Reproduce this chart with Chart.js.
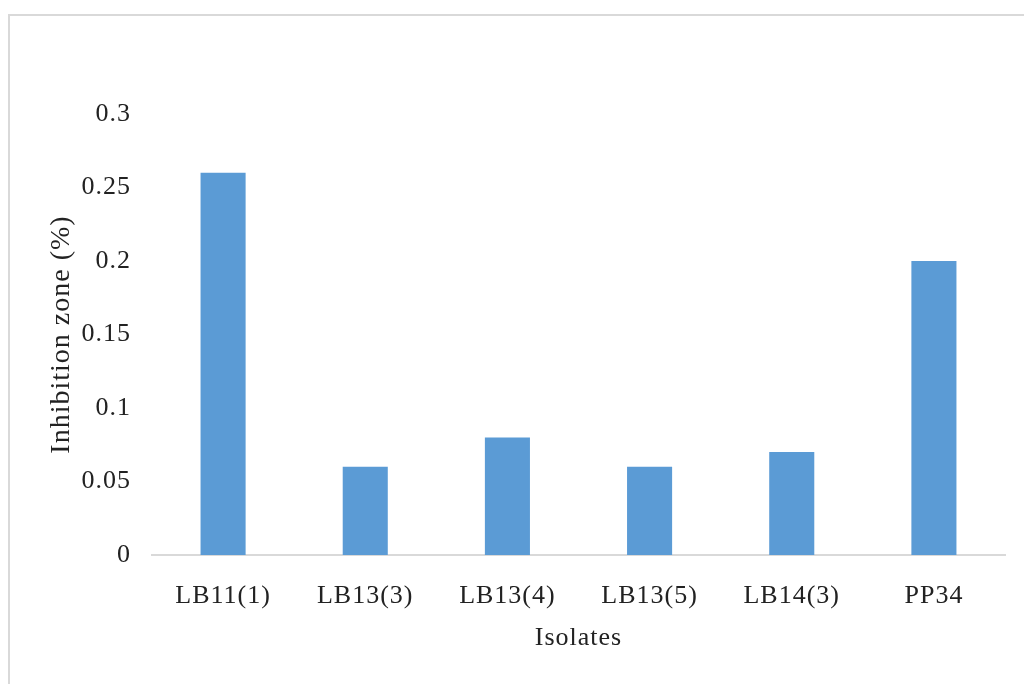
<!DOCTYPE html>
<html>
<head>
<meta charset="utf-8">
<script src="https://cdn.jsdelivr.net/npm/chart.js@4/dist/chart.umd.min.js"></script>
<style>
  html, body { margin: 0; padding: 0; background: #fff; }
  #wrap { position: relative; width: 1024px; height: 684px; overflow: hidden; }
  #frame {
    position: absolute; left: 8px; top: 14px; width: 1100px; height: 800px;
    border-top: 2px solid #d9d9d9; border-left: 2px solid #d9d9d9;
  }
  #chart { position: absolute; left: 0; top: 0; }
</style>
</head>
<body>
<div id="wrap">
  <div id="frame"></div>
  <canvas id="chart" width="1024" height="684"></canvas>
</div>
<script>
// data
const isolates = ['LB11(1)', 'LB13(3)', 'LB13(4)', 'LB13(5)', 'LB14(3)', 'PP34'];
const inhibitionZone = [0.26, 0.06, 0.08, 0.06, 0.07, 0.2];
const yTicks = [0, 0.05, 0.1, 0.15, 0.2, 0.25, 0.3];

const textColor = '#222';
const fontFamily = '"Liberation Serif", "Times New Roman", serif';

// the original text is set a little wider than plain Times
const spacingPlugin = {
  id: 'spacing',
  beforeDraw: (chart) => { chart.ctx.letterSpacing = '1px'; },
};

const ctx = document.getElementById('chart').getContext('2d');
new Chart(ctx, {
  type: 'bar',
  data: {
    labels: isolates,
    datasets: [
      {
        label: 'Inhibition zone (%)',
        data: inhibitionZone,
        backgroundColor: '#5b9bd5',
        borderWidth: 0,
        barPercentage: 0.317,
        categoryPercentage: 1,
      },
    ],
  },
  plugins: [spacingPlugin],
  options: {
    responsive: false,
    animation: false,
    layout: {
      padding: { top: 114, right: 19, bottom: 0, left: 0 },
    },
    plugins: {
      legend: { display: false },
      tooltip: { enabled: false },
    },
    scales: {
      x: {
        grid: { display: false, drawTicks: false },
        border: { display: true, color: '#d9d9d9', width: 2 },
        ticks: {
          color: textColor,
          padding: 26,
          font: { family: fontFamily, size: 26 },
          maxRotation: 0,
        },
        title: {
          display: true,
          text: 'Isolates',
          color: textColor,
          font: { family: fontFamily, size: 26 },
          padding: { top: 0, bottom: 30 },
        },
        afterFit: (scale) => { scale.height = 684 - 555; },
      },
      y: {
        min: 0,
        max: 0.3,
        grid: { display: false, drawTicks: false },
        border: { display: false },
        afterBuildTicks: (scale) => {
          scale.ticks = yTicks.map(v => ({ value: v }));
        },
        ticks: {
          color: textColor,
          padding: 21,
          font: { family: fontFamily, size: 26 },
          callback: (v) => String(v),
        },
        title: {
          display: true,
          text: 'Inhibition zone (%)',
          color: textColor,
          font: { family: fontFamily, size: 28 },
          padding: { top: 45, bottom: 0 },
        },
        afterFit: (scale) => { scale.width = 152; },
      },
    },
  },
});
</script>
</body>
</html>
